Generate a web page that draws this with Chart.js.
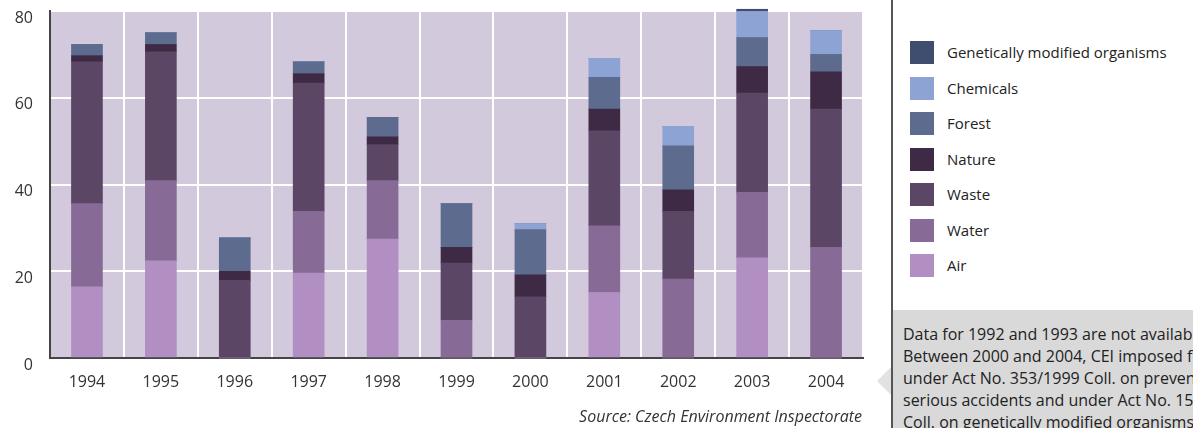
<!DOCTYPE html>
<html>
<head>
<meta charset="utf-8">
<script src="https://cdn.jsdelivr.net/npm/chart.js@4/dist/chart.umd.min.js"></script>
<style>
  html, body { margin: 0; padding: 0; background: #fff; }
  body { width: 1193px; height: 428px; position: relative; overflow: hidden; font-family: "Open Sans", sans-serif; }
  #wrap { position: absolute; left: 0; top: 0; width: 880px; height: 428px; }
  #source { position: absolute; right: 331px; top: 405px; font-style: italic; font-size: 16px; color: #333; white-space: nowrap; }
  #rule { position: absolute; left: 891px; top: 0; width: 2px; height: 428px; background: #555; }
  #legend { position: absolute; left: 910px; top: 41px; }
  .item { position: relative; height: 35.5px; }
  .sw { position: absolute; left: 0; top: 0; width: 24px; height: 23px; }
  .lab { position: absolute; left: 37px; top: 0; line-height: 23px; font-size: 15px; color: #222; white-space: nowrap; }
  #note { position: absolute; left: 893px; top: 310px; width: 300px; height: 118px; background: #d9d9d9; overflow: hidden; }
  #note p { margin: 0; padding: 13px 0 0 10px; font-size: 16px; line-height: 22px; color: #222; white-space: nowrap; }
  #pointer { position: absolute; left: 877px; top: 367px; width: 0; height: 0;
             border-top: 14px solid transparent; border-bottom: 14px solid transparent; border-right: 14px solid #e2e2e2; }
</style>
</head>
<body>
<div id="wrap"><canvas id="c" width="880" height="428"></canvas></div>
<div id="source">Source: Czech Environment Inspectorate</div>
<div id="rule"></div>
<div id="legend"></div>
<div id="pointer"></div>
<div id="note"><p>Data for 1992 and 1993 are not available.<br>Between 2000 and 2004, CEI imposed fines<br>under Act No. 353/1999 Coll. on prevention of<br>serious accidents and under Act No. 153/2000<br>Coll. on genetically modified organisms.</p></div>
<script>
// Fines imposed by the inspectorate per year, by area of protection
const years = ['1994', '1995', '1996', '1997', '1998', '1999', '2000', '2001', '2002', '2003', '2004'];
const air       = [16.4, 22.4, 0,    19.6, 27.4, 0,    0,    15.1, 0,    23.1, 0];
const water     = [19.2, 18.5, 0,    14.2, 13.5, 8.7,  0,    15.4, 18.2, 15.1, 25.5];
const waste     = [32.7, 29.7, 17.9, 29.6, 8.3,  13.2, 14.1, 21.9, 15.6, 22.9, 31.9];
const nature    = [1.4,  1.7,  2.1,  2.2,  1.8,  3.6,  5.1,  5.0,  5.0,  6.1,  8.6];
const forest    = [2.6,  2.7,  7.7,  2.7,  4.5,  10.1, 10.4, 7.3,  10.1, 6.7,  4.0];
const chemicals = [0,    0,    0,    0,    0,    0,    1.4,  4.4,  4.5,  6.0,  5.5];
const gmo       = [0,    0,    0,    0,    0,    0,    0,    0,    0,    0.5,  0];
const yTicks = [0, 20, 40, 60, 80];

const series = [
  { label: 'Air', data: air, color: '#b18fc3' },
  { label: 'Water', data: water, color: '#876b96' },
  { label: 'Waste', data: waste, color: '#5b4666' },
  { label: 'Nature', data: nature, color: '#3e2a45' },
  { label: 'Forest', data: forest, color: '#5d6c8e' },
  { label: 'Chemicals', data: chemicals, color: '#8da3d3' },
  { label: 'Genetically modified organisms', data: gmo, color: '#3f4e6e' }
];

// Plot background behind the bars
const plotBackground = {
  id: 'plotBackground',
  beforeDraw(chart) {
    const { ctx, chartArea: a } = chart;
    ctx.save();
    ctx.fillStyle = '#d3c9dc';
    ctx.fillRect(a.left, a.top, a.right - a.left, a.bottom - a.top);
    ctx.restore();
  }
};

const tickFont = { family: '"Open Sans", sans-serif', size: 16 };

new Chart(document.getElementById('c'), {
  type: 'bar',
  data: {
    labels: years,
    datasets: series.map(s => ({
      label: s.label,
      data: s.data,
      backgroundColor: s.color,
      borderWidth: 0,
      barThickness: 31,
      clip: false
    }))
  },
  options: {
    responsive: false,
    animation: false,
    layout: { padding: { top: 11, right: 17, left: 0, bottom: 0 } },
    plugins: { legend: { display: false }, tooltip: { enabled: false } },
    scales: {
      x: {
        stacked: true,
        grid: { color: '#ffffff', lineWidth: 2, drawTicks: false, offset: true },
        border: { display: true, color: '#444', width: 2 },
        ticks: { color: '#333', font: tickFont, padding: 15 },
        afterFit(scale) {
          scale.height = 70;
          scale.paddingLeft = 0;
          scale.paddingRight = 0;
        }
      },
      y: {
        stacked: true,
        min: 0,
        max: 80,
        afterBuildTicks(scale) { scale.ticks = yTicks.map(v => ({ value: v })); },
        grid: { color: '#ffffff', lineWidth: 2, drawTicks: false },
        border: { display: true, color: '#444', width: 2 },
        ticks: { color: '#333', font: tickFont, padding: 17, labelOffset: 7 },
        afterFit(scale) {
          scale.width = 50;
          scale.paddingTop = 0;
          scale.paddingBottom = 0;
        }
      }
    }
  },
  plugins: [plotBackground]
});

// Legend, listed top-down from the top of the stack
const legend = document.getElementById('legend');
series.slice().reverse().forEach(s => {
  const item = document.createElement('div');
  item.className = 'item';
  const sw = document.createElement('div');
  sw.className = 'sw';
  sw.style.background = s.color;
  const lab = document.createElement('div');
  lab.className = 'lab';
  lab.textContent = s.label;
  item.appendChild(sw);
  item.appendChild(lab);
  legend.appendChild(item);
});
</script>
</body>
</html>
